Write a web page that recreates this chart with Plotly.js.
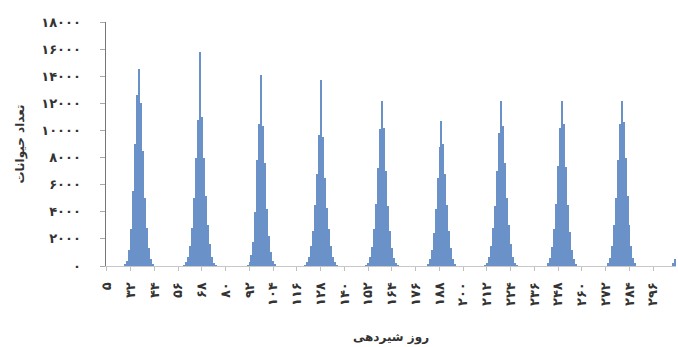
<!DOCTYPE html>
<html><head><meta charset="utf-8">
<script src="https://cdn.plot.ly/plotly-3.0.1.min.js"></script>
<style>html,body{margin:0;padding:0;background:#fff}#chart{width:678px;height:347px}</style>
</head><body><div id="chart"></div>
<script>
// Category axis: day in milk (day 5, then days 21..307)
const allDays = [5,
  21,22,23,24,25,26,27,28,29,30,31,32,33,34,35,36,37,38,39,40,
  41,42,43,44,45,46,47,48,49,50,51,52,53,54,55,56,57,58,59,60,
  61,62,63,64,65,66,67,68,69,70,71,72,73,74,75,76,77,78,79,80,
  81,82,83,84,85,86,87,88,89,90,91,92,93,94,95,96,97,98,99,100,
  101,102,103,104,105,106,107,108,109,110,111,112,113,114,115,116,117,118,119,120,
  121,122,123,124,125,126,127,128,129,130,131,132,133,134,135,136,137,138,139,140,
  141,142,143,144,145,146,147,148,149,150,151,152,153,154,155,156,157,158,159,160,
  161,162,163,164,165,166,167,168,169,170,171,172,173,174,175,176,177,178,179,180,
  181,182,183,184,185,186,187,188,189,190,191,192,193,194,195,196,197,198,199,200,
  201,202,203,204,205,206,207,208,209,210,211,212,213,214,215,216,217,218,219,220,
  221,222,223,224,225,226,227,228,229,230,231,232,233,234,235,236,237,238,239,240,
  241,242,243,244,245,246,247,248,249,250,251,252,253,254,255,256,257,258,259,260,
  261,262,263,264,265,266,267,268,269,270,271,272,273,274,275,276,277,278,279,280,
  281,282,283,284,285,286,287,288,289,290,291,292,293,294,295,296,297,298,299,300,
  301,302,303,304,305,306,307];

// Counts of animals per day (only non-zero days listed)
const wave1Days   = [29,30,31,32,33,34,35,36,37,38,39,40,41,42,43];
const wave1Counts = [150,400,1200,2700,5500,9000,12600,14500,12000,8500,5000,2800,1300,500,150];
const wave2Days   = [59,60,61,62,63,64,65,66,67,68,69,70,71,72,73,74,75];
const wave2Counts = [100,300,700,1500,2800,5000,8000,10800,15800,11000,8000,5200,3000,1600,700,250,80];
const wave3Days   = [91,92,93,94,95,96,97,98,99,100,101,102,103,104,105];
const wave3Counts = [100,300,800,1800,4000,7800,10500,14100,10300,7600,4200,2200,1000,400,120];
const wave4Days   = [120,121,122,123,124,125,126,127,128,129,130,131,132,133,134,135,136];
const wave4Counts = [100,300,700,1500,2600,4500,6800,9700,13700,9500,6500,4300,2700,1500,700,300,100];
const wave5Days   = [151,152,153,154,155,156,157,158,159,160,161,162,163,164,165,166,167];
const wave5Counts = [80,250,650,1400,2700,4600,7200,10100,12200,10200,7000,4400,2600,1300,600,200,60];
const wave6Days   = [182,183,184,185,186,187,188,189,190,191,192,193,194,195,196];
const wave6Counts = [150,500,1200,2400,4200,6500,8800,10700,9000,6800,4500,2600,1300,500,150];
const wave7Days   = [211,212,213,214,215,216,217,218,219,220,221,222,223,224,225,226,227];
const wave7Counts = [80,250,700,1500,2800,4400,7000,9800,12150,10300,7600,5000,3000,1600,700,250,80];
const wave8Days   = [243,244,245,246,247,248,249,250,251,252,253,254,255,256,257];
const wave8Counts = [200,600,1400,2700,4600,7400,10200,12200,10500,7300,4500,2500,1200,500,150];
const wave9Days   = [273,274,275,276,277,278,279,280,281,282,283,284,285,286,287];
const wave9Counts = [200,600,1500,3000,5000,7800,10500,12200,10600,8000,5200,3000,1500,600,200];
const tailDays    = [306,307];
const tailCounts  = [200,550];

const xTickDays = [5,32,44,56,68,80,92,104,116,128,140,152,164,176,188,200,212,224,236,248,260,272,284,296];
const yTickValues = [0,2000,4000,6000,8000,10000,12000,14000,16000,18000];
const xTitle = 'روز شیردهی';
const yTitle = 'تعداد حیوانات';

function fa(n){ return String(n).replace(/\d/g, d => '۰۱۲۳۴۵۶۷۸۹'[+d]); }

const barDays = [].concat(wave1Days,wave2Days,wave3Days,wave4Days,wave5Days,wave6Days,wave7Days,wave8Days,wave9Days,tailDays);
const barCounts = [].concat(wave1Counts,wave2Counts,wave3Counts,wave4Counts,wave5Counts,wave6Counts,wave7Counts,wave8Counts,wave9Counts,tailCounts);

const tickFont = {family:'DejaVu Sans', size:13, color:'#333', weight:'bold'};
const titleFont = {family:'DejaVu Sans', size:12, color:'#333', weight:'bold'};

const trace = {
  type:'bar',
  x: barDays.map(fa),
  y: barCounts,
  marker:{color:'#6a92c8', line:{width:0}},
  hoverinfo:'skip'
};

const layout = {
  width:678, height:347,
  margin:{l:106, r:2, t:22, b:81},
  paper_bgcolor:'#fff', plot_bgcolor:'#fff',
  bargap:0,
  showlegend:false,
  xaxis:{
    type:'category', categoryorder:'array', categoryarray: allDays.map(fa),
    range:[-0.5, allDays.length-0.5],
    tickmode:'array', tickvals: xTickDays.map(fa), ticktext: xTickDays.map(fa),
    tickangle:-90, ticks:'outside', ticklen:4, tickcolor:'#c0c0c0',
    ticklabelstandoff:6,
    showline:true, linecolor:'#c8c8c8', linewidth:1, showgrid:false,
    tickfont: tickFont, automargin:false,
    title:{text:xTitle, font:titleFont, standoff:27}
  },
  yaxis:{
    range:[0,18000], tickmode:'array', tickvals: yTickValues, ticktext: yTickValues.map(fa),
    ticks:'outside', ticklen:5, tickcolor:'#aaa',
    showline:true, linecolor:'#777', linewidth:1.5, showgrid:false, zeroline:false,
    tickfont: tickFont, ticklabelstandoff:16, automargin:false,
    title:{text:yTitle, font:titleFont, standoff:14}
  }
};

Plotly.newPlot('chart', [trace], layout, {staticPlot:true, displayModeBar:false});
</script>
</body></html>
